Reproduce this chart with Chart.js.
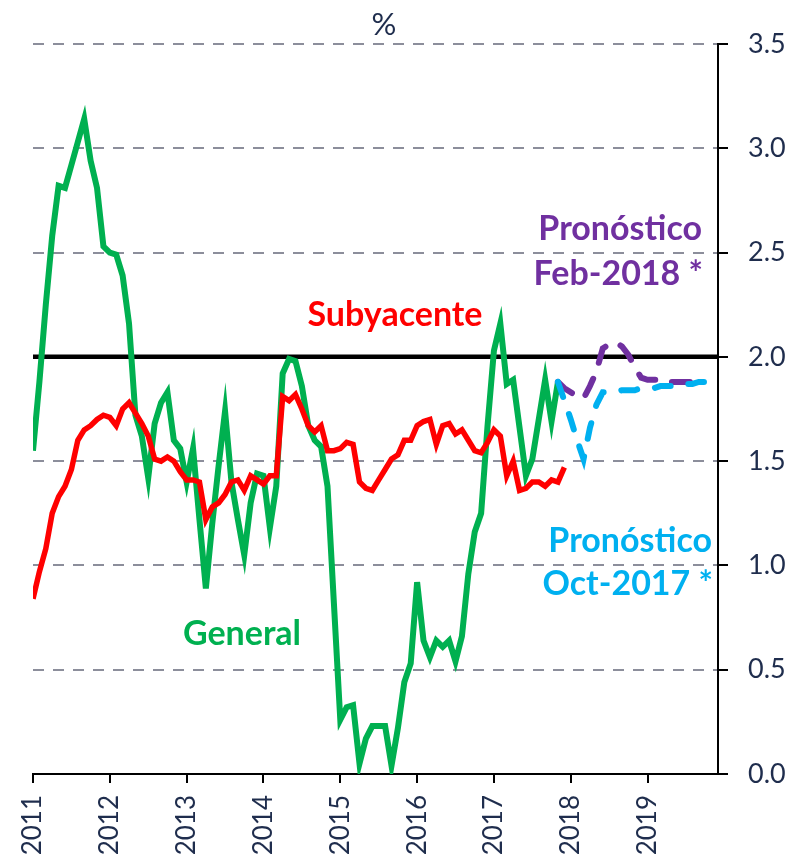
<!DOCTYPE html>
<html>
<head>
<meta charset="utf-8">
<script src="https://cdn.jsdelivr.net/npm/chart.js@4.4.1/dist/chart.umd.min.js"></script>
<style>
    html, body { margin: 0; padding: 0; background: #fff; }
    #wrap { width: 794px; height: 860px; }
</style>
</head>
<body>
<div id="wrap"><canvas id="inflChart" width="794" height="860"></canvas></div>
<script>
// tick labels
const years = ['2011', '2012', '2013', '2014', '2015', '2016', '2017', '2018', '2019'];
const monthsShown = 107; // Jan 2011 .. Dec 2019 (month index)
const target = 2.0;

// monthly values, index 0 = Jan 2011
const general = [
    1.55, 1.88, 2.25, 2.58, 2.82, 2.81, 2.92, 3.03, 3.14, 2.94, 2.81, 2.53,
    2.50, 2.49, 2.39, 2.16, 1.72, 1.62, 1.42, 1.68, 1.78, 1.83, 1.60, 1.56,
    1.40, 1.56, 1.22, 0.89, 1.20, 1.48, 1.74, 1.40, 1.22, 1.05, 1.30, 1.44,
    1.43, 1.18, 1.38, 1.92, 1.99, 1.98, 1.86, 1.67, 1.60, 1.57, 1.38, 0.82,
    0.26, 0.32, 0.33, 0.05, 0.17, 0.23, 0.23, 0.23, 0.04, 0.22, 0.44, 0.53,
    0.92, 0.64, 0.56, 0.64, 0.61, 0.64, 0.54, 0.66, 0.96, 1.16, 1.25, 1.67,
    2.03, 2.16, 1.87, 1.89, 1.66, 1.43, 1.51, 1.70, 1.89, 1.69, 1.88
];
const subyacente = [
    0.84, 0.97, 1.08, 1.25, 1.33, 1.38, 1.46, 1.60, 1.65, 1.67, 1.70, 1.72,
    1.71, 1.67, 1.75, 1.78, 1.73, 1.68, 1.62, 1.51, 1.50, 1.52, 1.50, 1.45,
    1.41, 1.41, 1.40, 1.22, 1.28, 1.30, 1.34, 1.40, 1.41, 1.36, 1.43, 1.41,
    1.39, 1.43, 1.43, 1.81, 1.79, 1.82, 1.75, 1.67, 1.64, 1.67, 1.55, 1.55,
    1.56, 1.59, 1.58, 1.40, 1.37, 1.36, 1.41, 1.46, 1.51, 1.53, 1.60, 1.60,
    1.67, 1.69, 1.70, 1.58, 1.67, 1.68, 1.63, 1.65, 1.60, 1.55, 1.54, 1.59,
    1.65, 1.62, 1.43, 1.50, 1.36, 1.37, 1.40, 1.40, 1.38, 1.41, 1.40, 1.47
];
// forecasts, starting Nov 2017 (month index 82)
const forecastStart = 82;
const pronFeb2018 = [
    1.88, 1.85, 1.83, 1.81, 1.80, 1.86, 1.93, 2.04, 2.06, 2.07, 2.05, 2.01,
    1.95, 1.90, 1.89, 1.89, 1.89, 1.88, 1.88, 1.88, 1.88, 1.88, 1.87, 1.87
];
const pronOct2017 = [
    1.88, 1.79, 1.70, 1.60, 1.51, 1.66, 1.77, 1.83, 1.83, 1.83, 1.84, 1.84,
    1.84, 1.85, 1.85, 1.85, 1.86, 1.86, 1.86, 1.87, 1.87, 1.87, 1.88, 1.88,
    1.88, 1.89
];

const toPoints = (values, start) => values.map((v, i) => ({ x: start + i, y: v }));

const navy = '#1f2d4d';
const fontFamily = 'Lato, "Open Sans", sans-serif';

const extras = {
    id: 'extras',
    beforeDatasetsDraw(chart) {
        const { ctx, chartArea, scales } = chart;
        const yp = scales.y.getPixelForValue(target);
        ctx.save();
        ctx.strokeStyle = '#000';
        ctx.lineWidth = 4.5;
        ctx.beginPath();
        ctx.moveTo(chartArea.left, yp);
        ctx.lineTo(chartArea.right, yp);
        ctx.stroke();
        ctx.restore();
    },
    afterDraw(chart) {
        const { ctx } = chart;
        const texts = [
            { t: '%', x: 384, y: 35, c: navy, w: 'normal', s: 31, a: 'center' },
            { t: 'Subyacente', x: 395, y: 326, c: '#ff0000', w: 'bold', s: 34, a: 'center' },
            { t: 'General', x: 242, y: 645, c: '#00b050', w: 'bold', s: 34, a: 'center' },
            { t: 'Pronóstico', x: 702, y: 240, c: '#7030a0', w: 'bold', s: 34, a: 'right' },
            { t: 'Feb-2018 *', x: 703, y: 285, c: '#7030a0', w: 'bold', s: 34, a: 'right' },
            { t: 'Pronóstico', x: 712, y: 552, c: '#00b0f0', w: 'bold', s: 34, a: 'right' },
            { t: 'Oct-2017 *', x: 713, y: 595, c: '#00b0f0', w: 'bold', s: 34, a: 'right' }
        ];
        ctx.save();
        ctx.textBaseline = 'alphabetic';
        texts.forEach((d) => {
            ctx.font = d.w + ' ' + d.s + 'px ' + fontFamily;
            ctx.fillStyle = d.c;
            ctx.textAlign = d.a;
            ctx.fillText(d.t, d.x, d.y);
        });
        ctx.restore();
    }
};

new Chart(document.getElementById('inflChart'), {
    type: 'line',
    data: {
        datasets: [
            {
                label: 'Pronóstico Oct-2017',
                data: toPoints(pronOct2017, forecastStart),
                borderColor: '#00b0f0',
                borderWidth: 6,
                borderDash: [16, 18],
                borderCapStyle: 'round'
            },
            {
                label: 'Pronóstico Feb-2018',
                data: toPoints(pronFeb2018, forecastStart),
                borderColor: '#7030a0',
                borderWidth: 6,
                borderDash: [18, 17],
                borderCapStyle: 'round'
            },
            {
                label: 'Subyacente',
                data: toPoints(subyacente, 0),
                borderColor: '#ff0000',
                borderWidth: 5.5
            },
            {
                label: 'General',
                data: toPoints(general, 0),
                borderColor: '#00b050',
                borderWidth: 6
            }
        ]
    },
    options: {
        responsive: false,
        animation: false,
        devicePixelRatio: 1,
        elements: { point: { radius: 0 }, line: { tension: 0, fill: false } },
        layout: { padding: { left: 33, top: 44, right: 0, bottom: 0 } },
        plugins: { legend: { display: false }, tooltip: { enabled: false } },
        scales: {
            x: {
                type: 'linear',
                min: 0,
                max: monthsShown,
                afterBuildTicks: (scale) => {
                    scale.ticks = years.map((y, i) => ({ value: i * 12 }));
                },
                afterFit: (scale) => { scale.height = 86; },
                ticks: {
                    autoSkip: false,
                    minRotation: 90,
                    maxRotation: 90,
                    padding: 12,
                    color: navy,
                    font: { family: fontFamily, size: 26 },
                    callback: (v) => years[Math.round(v / 12)]
                },
                grid: { drawOnChartArea: false, drawTicks: true, tickLength: 9, color: '#000', lineWidth: 2 },
                border: { color: '#000', width: 2 }
            },
            y: {
                position: 'right',
                min: 0,
                max: 3.5,
                afterFit: (scale) => { scale.width = 76; },
                ticks: {
                    stepSize: 0.5,
                    padding: 20,
                    color: navy,
                    font: { family: fontFamily, size: 27 },
                    callback: (v) => v.toFixed(1)
                },
                grid: {
                    color: (c) => (c.tick && c.tick.value === 0 ? 'rgba(0,0,0,0)' : '#8c8e9b'),
                    lineWidth: 2,
                    tickColor: '#000',
                    tickWidth: 2,
                    tickLength: 10
                },
                border: { color: '#000', width: 2, dash: [11, 9] }
            }
        }
    },
    plugins: [extras]
});
</script>
</body>
</html>
